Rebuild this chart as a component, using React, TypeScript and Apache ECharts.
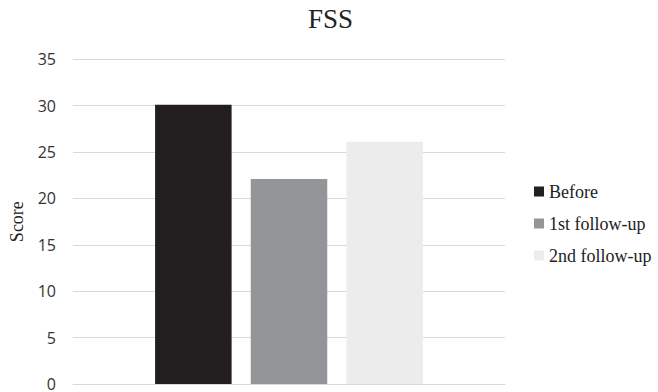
import React, { useEffect, useRef } from "react";
import * as echarts from "echarts";

// FSS score at each time point
const categories: string[] = ["FSS"];
const seriesNames: string[] = ["Before", "1st follow-up", "2nd follow-up"];
const before: number[] = [30.1];
const followUp1: number[] = [22.1];
const followUp2: number[] = [26.1];
const seriesColors: string[] = ["#231f20", "#939598", "#ebeceb"];

const yMin = 0;
const yMax = 35;
const yInterval = 5;

export default function App() {
  const ref = useRef<HTMLDivElement>(null);

  useEffect(() => {
    document.body.style.margin = "0";
    if (!ref.current) return;
    const chart = echarts.init(ref.current, undefined, { renderer: "svg" });
    const values = [before, followUp1, followUp2];
    chart.setOption({
      animation: false,
      backgroundColor: "#ffffff",
      title: {
        text: "FSS",
        left: 308,
        top: 5,
        padding: 0,
        textStyle: {
          fontFamily: "Liberation Serif",
          fontSize: 27,
          fontWeight: "normal",
          color: "#222222",
        },
      },
      legend: {
        orient: "vertical",
        left: 534,
        top: 182,
        padding: 0,
        itemWidth: 10,
        itemHeight: 10,
        itemGap: 13,
        icon: "rect",
        data: seriesNames,
        textStyle: {
          fontFamily: "Liberation Serif",
          fontSize: 18,
          lineHeight: 19,
          color: "#222222",
        },
      },
      grid: {
        left: 69,
        right: 153,
        top: 59.3,
        bottom: 6,
        containLabel: false,
      },
      xAxis: {
        type: "category",
        data: categories,
        axisLine: { show: true, lineStyle: { color: "#d9d9d9", width: 1 } },
        axisTick: { show: false },
        axisLabel: { show: false },
      },
      yAxis: {
        type: "value",
        min: yMin,
        max: yMax,
        interval: yInterval,
        name: "Score",
        nameLocation: "middle",
        nameGap: 47,
        nameRotate: 90,
        nameTextStyle: {
          fontFamily: "Liberation Serif",
          fontSize: 18,
          color: "#222222",
        },
        axisLine: { show: false },
        axisTick: { show: false },
        axisLabel: {
          fontFamily: "Open Sans",
          fontSize: 16,
          color: "#333333",
          margin: 17,
        },
        splitLine: { lineStyle: { color: "#d9d9d9", width: 1 } },
      },
      series: seriesNames.map((name, i) => ({
        name,
        type: "bar",
        data: values[i],
        barCategoryGap: "38%",
        barGap: "25%",
        itemStyle: { color: seriesColors[i] },
      })),
    });
    return () => chart.dispose();
  }, []);

  return <div ref={ref} style={{ width: 658, height: 392 }} />;
}
